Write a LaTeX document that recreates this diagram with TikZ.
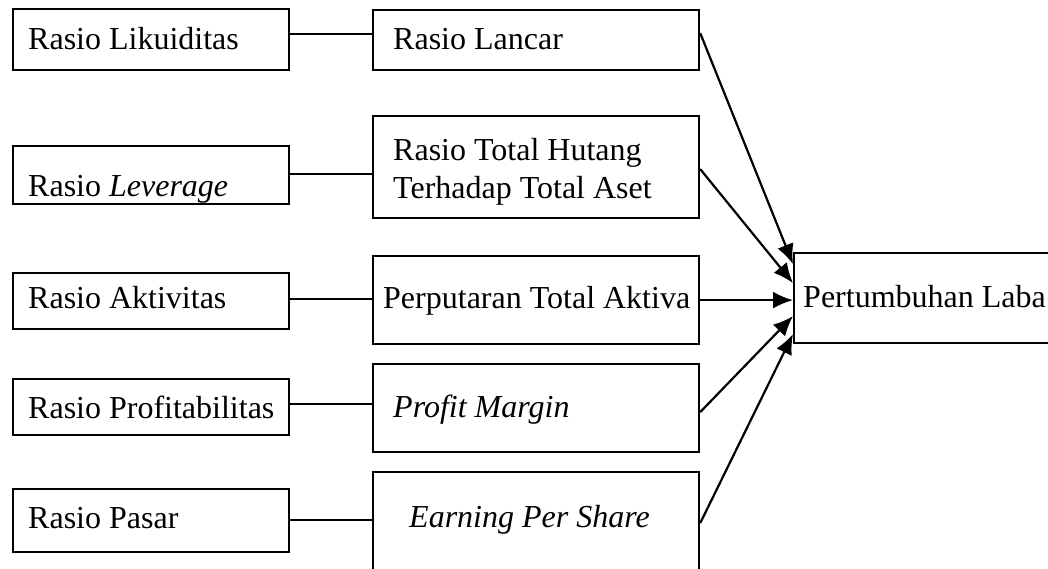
\documentclass[tikz,border=0pt]{standalone}
\usepackage{fontspec}
\setmainfont{Liberation Serif}
\usetikzlibrary{arrows.meta, positioning, calc}

\begin{document}
\begin{tikzpicture}[
        x=1pt, y=-1pt,
        rbox/.style={draw, line width=2.2pt, inner sep=0pt, anchor=north west},
        lbl/.style={anchor=base west, inner sep=0pt, align=left, font=\fontsize{32}{38}\selectfont},
        link/.style={line width=2.2pt},
        arr/.style={line width=2.2pt, -{Latex[length=20pt, width=17pt]}},
    ]
        \useasboundingbox (0,0) rectangle (1048,569);
        \clip (0,0) rectangle (1048,569);

        % ratio groups (left column)
        \node[rbox, minimum width=276pt, minimum height=61pt] (lik) at (12,8) {};
        \node[rbox, minimum width=276pt, minimum height=58pt] (lev) at (12,145) {};
        \node[rbox, minimum width=276pt, minimum height=56pt] (akt) at (12,272) {};
        \node[rbox, minimum width=276pt, minimum height=56pt] (prof) at (12,378) {};
        \node[rbox, minimum width=276pt, minimum height=63pt] (pas) at (12,488) {};
        \node[lbl] (lik-t) at ([xshift=16pt, yshift=-42pt]lik.north west) {Rasio Likuiditas};
        \node[lbl] (lev-t) at ([xshift=16pt, yshift=-52pt]lev.north west) {Rasio \textit{Leverage}};
        \node[lbl] (akt-t) at ([xshift=16pt, yshift=-36pt]akt.north west) {Rasio Aktivitas};
        \node[lbl] (prof-t) at ([xshift=16pt, yshift=-40pt]prof.north west) {Rasio Profitabilitas};
        \node[lbl] (pas-t) at ([xshift=16pt, yshift=-40pt]pas.north west) {Rasio Pasar};

        % proxies (middle column)
        \node[rbox, minimum width=326pt, minimum height=60pt] (lancar) at (372,9) {};
        \node[rbox, minimum width=326pt, minimum height=102pt] (hutang) at (372,115) {};
        \node[rbox, minimum width=326pt, minimum height=88pt] (putar) at (372,255) {};
        \node[rbox, minimum width=326pt, minimum height=88pt] (margin) at (372,363) {};
        \node[rbox, minimum width=326pt, minimum height=120pt] (eps) at (372,471) {};
        \node[lbl] (lancar-t) at ([xshift=21pt, yshift=-41pt]lancar.north west) {Rasio Lancar};
        \node[lbl] (hutang-t) at ([xshift=21pt, yshift=-84pt]hutang.north west) {Rasio Total Hutang\\Terhadap Total Aset};
        \node[lbl] (putar-t) at ([xshift=11pt, yshift=-53pt]putar.north west) {Perputaran Total Aktiva};
        \node[lbl] (margin-t) at ([xshift=21pt, yshift=-54pt]margin.north west) {\textit{Profit Margin}};
        \node[lbl] (eps-t) at ([xshift=37pt, yshift=-56pt]eps.north west) {\textit{Earning Per Share}};

        % dependent variable
        \node[rbox, minimum width=300pt, minimum height=90pt] (laba) at (793,252) {};
        \node[lbl] (laba-t) at ([xshift=10pt, yshift=-55pt]laba.north west) {Pertumbuhan Laba};

        \foreach \src/\dst/\dy in {lik/lancar/5.5, lev/hutang/1, akt/putar/2, prof/margin/3, pas/eps/0.5}
            \draw[link] ([yshift=\dy pt]\src.east) -- ([yshift=\dy pt]\src.east -| \dst.west);

        \foreach \src/\sy/\ty in {lancar/7/34, hutang/-2/15, putar/0/-2, margin/-4/-18, eps/9/-36}
            \draw[arr] ([yshift=\sy pt]\src.east) -- ([yshift=\ty pt]laba.west);
    \end{tikzpicture}
\end{document}
